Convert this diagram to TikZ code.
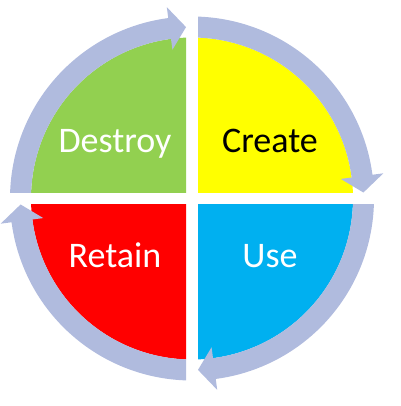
\documentclass[tikz,border=0pt]{standalone}
\usepackage{fontspec}
\setmainfont{Carlito}
\definecolor{ringc}{RGB}{176,187,222}
\definecolor{destroyc}{RGB}{146,208,80}
\definecolor{createc}{RGB}{255,255,0}
\definecolor{usec}{RGB}{0,176,240}
\definecolor{retainc}{RGB}{255,0,0}
\tikzset{
  lbl/.style={font=\fontsize{36}{43}\selectfont, anchor=base, inner sep=0pt},
}
\begin{document}
\begin{tikzpicture}[x=1pt,y=-1pt]
\useasboundingbox (0,0) rectangle (400,406);
\coordinate (c) at (192,198.5);
% quadrant sectors
\foreach \col/\xa/\ya/\xb/\yb in {destroyc/0/0/186/192.5, createc/198/0/400/192.5, usec/198/204.5/400/406, retainc/0/204.5/186/406}{
  \begin{scope}
    \clip (\xa,\ya) rectangle (\xb,\yb);
    \fill[\col] (c) circle[radius=161];
  \end{scope}
}
% ring arrows
\foreach \r/\xa/\ya/\xb/\yb in {0/0/0/186/192.5, 90/198/0/400/192.5, 180/198/204.5/400/406, 270/0/204.5/186/406}{
  \begin{scope}
    \clip (\xa,\ya) rectangle (\xb,\yb);
    \begin{scope}[shift={(c)}]
      \fill[ringc] ({165+\r}:161) arc[start angle={165+\r}, end angle={262.5+\r}, radius=161]
        -- ({262.5+\r}:150) -- ({268+\r}:171.5) -- ({262.5+\r}:193) -- ({262.5+\r}:182)
        arc[start angle={262.5+\r}, end angle={165+\r}, radius=182] -- cycle;
    \end{scope}
  \end{scope}
}
% labels
\node[lbl, text=white] (destroy) at (115,152) {Destroy};
\node[lbl, text=black] (create) at (270,152) {Create};
\node[lbl, text=white] (retain) at (115,267) {Retain};
\node[lbl, text=white] (use) at (270,267) {Use};
\end{tikzpicture}
\end{document}
